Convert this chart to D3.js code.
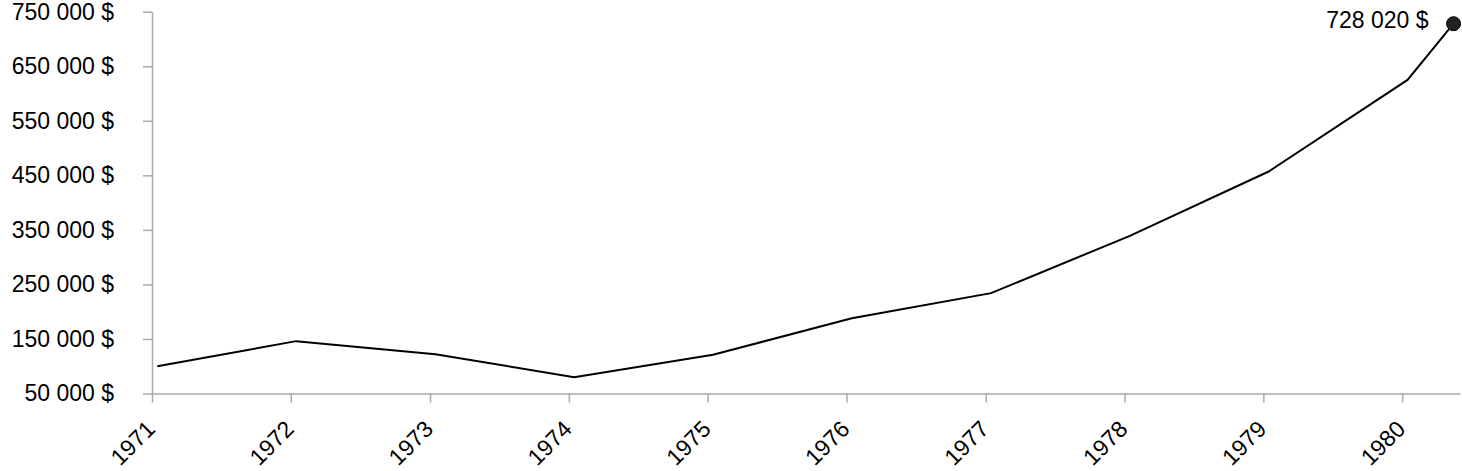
<!DOCTYPE html>
<html>
<head>
<meta charset="utf-8">
<script src="https://cdn.jsdelivr.net/npm/d3@7"></script>
<style>
    html, body { margin: 0; padding: 0; background: #fff; }
    svg { display: block; }
    svg text { font-family: Helvetica, Arial, "Liberation Sans", sans-serif; font-size: 23px; fill: #000; }
    .axis path, .axis line { stroke: #aaa; stroke-width: 1.5; }
    .valueline { fill: none; stroke: #000; stroke-width: 2; }
</style>
</head>
<body>
<svg id="chart" width="1462" height="471"></svg>
<script>

//////////////////////
// Data
//////////////////////

var dates = ["1971-01-15", "1972-01-15", "1973-01-15", "1974-01-15", "1975-01-15",
             "1976-01-15", "1977-01-15", "1978-01-15", "1979-01-15", "1980-01-15", "1980-05-15"];
var values = [100000, 146000, 122000, 80000, 121000, 188000, 234000, 339000, 457000, 625000, 728020];
var yTicks = [50000, 150000, 250000, 350000, 450000, 550000, 650000, 750000];
var xTickYears = [1971, 1972, 1973, 1974, 1975, 1976, 1977, 1978, 1979, 1980];

//////////////////////
// Setup
//////////////////////

var parseDate = d3.timeParse("%Y-%m-%d");
var data = dates.map(function(d, i) { return { date: parseDate(d), value: values[i] }; });

var locale = d3.formatLocale({ decimal: ",", thousands: " ", grouping: [3], currency: ["", " $"] });
var fmtMoney = locale.format("$,.0f");

var svg = d3.select("#chart");

var x = d3.scaleTime()
    .domain([new Date(1971, 0, 1), new Date(1980, 5, 1)])
    .range([152, 1460]);

var y = d3.scaleLinear()
    .domain([50000, 750000])
    .range([393.5, 11.7]);

//////////////////////
// Axes
//////////////////////

var yAxis = d3.axisLeft(y)
    .tickValues(yTicks)
    .tickSize(9)
    .tickSizeOuter(0)
    .tickPadding(29)
    .tickFormat(fmtMoney);

svg.append("g")
    .attr("class", "axis y")
    .attr("transform", "translate(" + x.range()[0] + ",0)")
    .call(yAxis)
    .attr("font-size", null)
    .attr("font-family", null);

var xAxis = d3.axisBottom(x)
    .tickValues(xTickYears.map(function(yr) { return new Date(yr, 0, 1); }))
    .tickSize(9)
    .tickSizeOuter(0)
    .tickFormat(d3.timeFormat("%Y"));

var gx = svg.append("g")
    .attr("class", "axis x")
    .attr("transform", "translate(0," + y.range()[0] + ")")
    .call(xAxis)
    .attr("font-size", null)
    .attr("font-family", null);

// rotated year labels
gx.selectAll(".tick text")
    .attr("x", 0)
    .attr("y", 0)
    .attr("dy", null)
    .attr("text-anchor", "end")
    .attr("transform", "translate(4,37) rotate(-45)");

//////////////////////
// Line + end point
//////////////////////

var line = d3.line()
    .x(function(d) { return x(d.date); })
    .y(function(d) { return y(d.value); });

svg.append("path")
    .datum(data)
    .attr("class", "valueline")
    .attr("d", line);

var last = data[data.length - 1];

svg.append("circle")
    .attr("cx", x(last.date))
    .attr("cy", y(last.value))
    .attr("r", 7)
    .attr("fill", "#222")
    .attr("stroke", "#000")
    .attr("stroke-width", 1);

svg.append("text")
    .attr("x", x(last.date) - 25)
    .attr("y", y(last.value) + 4)
    .attr("text-anchor", "end")
    .text(fmtMoney(last.value));

</script>
</body>
</html>
